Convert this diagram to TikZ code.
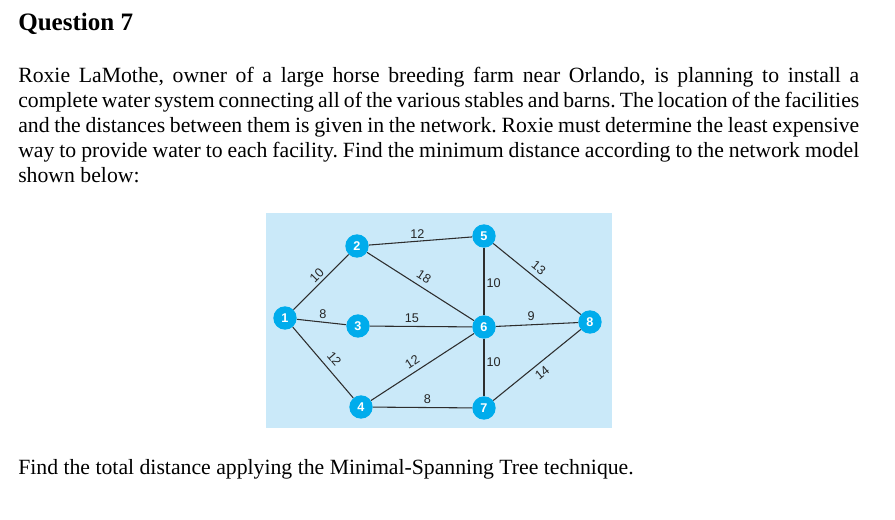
\documentclass[tikz,border=0pt]{standalone}
\usepackage{fontspec}
\setmainfont{Liberation Serif}
\setsansfont{Liberation Sans}
\frenchspacing

\definecolor{netbg}{RGB}{202,233,249}
\definecolor{stncyan}{RGB}{0,172,236}
\definecolor{pipegray}{RGB}{45,45,45}

\tikzset{
  stn/.style={circle, fill=stncyan, text=white, inner sep=0pt, minimum size=17.5pt,
    font=\sffamily\bfseries\fontsize{9.5}{9.5}\selectfont},
  pipe/.style={draw=pipegray, line width=0.8pt},
  dist/.style={font=\sffamily\fontsize{9.5}{10}\selectfont, text=black!85, inner sep=1.5pt},
  bodyline/.style={anchor=base west, inner sep=0pt, font=\fontsize{16.3}{18.75}\selectfont},
}

\begin{document}
\begin{tikzpicture}[x=0.75pt, y=-0.75pt]
  \useasboundingbox (0,0) rectangle (895,520);

  % heading and question text
  \node[anchor=base west, inner sep=0pt, font=\bfseries\fontsize{18.8}{22}\selectfont] (title) at (18,31) {Question 7};
  \node[bodyline] (l1) at (18,83) {\makebox[630.75pt][s]{Roxie LaMothe, owner of a large horse breeding farm near Orlando, is planning to install a}};
  \node[bodyline] (l2) at (18,108) {\makebox[630.75pt][s]{complete water system connecting all of the various stables and barns. The location of the facilities}};
  \node[bodyline] (l3) at (18,133) {\makebox[630.75pt][s]{and the distances between them is given in the network. Roxie must determine the least expensive}};
  \node[bodyline] (l4) at (18,158) {\makebox[630.75pt][s]{way to provide water to each facility. Find the minimum distance according to the network model}};
  \node[bodyline] (l5) at (18,183) {shown below:};

  % network panel
  \fill[netbg] (266,213) rectangle (612,428);

  % facilities
  \foreach \n/\x/\y in {1/285/318, 2/357/246, 3/358/326, 4/361/407,
                        5/484/236, 6/484/327, 7/484/408, 8/590/322}
    \node[stn] (n\n) at (\x,\y) {\n};

  % pipes with distances
  \draw[pipe] (n1) -- node[dist, sloped, above=.5pt, pos=.52] {10} (n2);
  \draw[pipe] (n1) -- node[dist, above=1pt, pos=.53] {8} (n3);
  \draw[pipe] (n1) -- node[dist, sloped, above=3pt, pos=.55] {12} (n4);
  \draw[pipe] (n2) -- node[dist, above, pos=.47] {12} (n5);
  \draw[pipe] (n2) -- node[dist, sloped, above=2.5pt, pos=.48] {18} (n6);
  \draw[pipe] (n3) -- node[dist, above=1pt, pos=.41] {15} (n6);
  \draw[pipe] (n4) -- node[dist, sloped, above=2pt, pos=.45] {12} (n6);
  \draw[pipe] (n4) -- node[dist, above=1pt, pos=.55] {8} (n7);
  \draw[pipe] (n5) -- node[dist, right, pos=.52] {10} (n6);
  \draw[pipe] (n5) -- node[dist, sloped, above=2pt, pos=.45] {13} (n8);
  \draw[pipe] (n6) -- node[dist, above=1pt, pos=.43] {9} (n8);
  \draw[pipe] (n6) -- node[dist, right, pos=.4] {10} (n7);
  \draw[pipe] (n7) -- node[dist, sloped, below=2pt, pos=.49] {14} (n8);

  \node[anchor=base west, inner sep=0pt, font=\fontsize{16.3}{18.75}\selectfont] (task) at (18,474)
    {Find the total distance applying the Minimal-Spanning Tree technique.};
\end{tikzpicture}
\end{document}
